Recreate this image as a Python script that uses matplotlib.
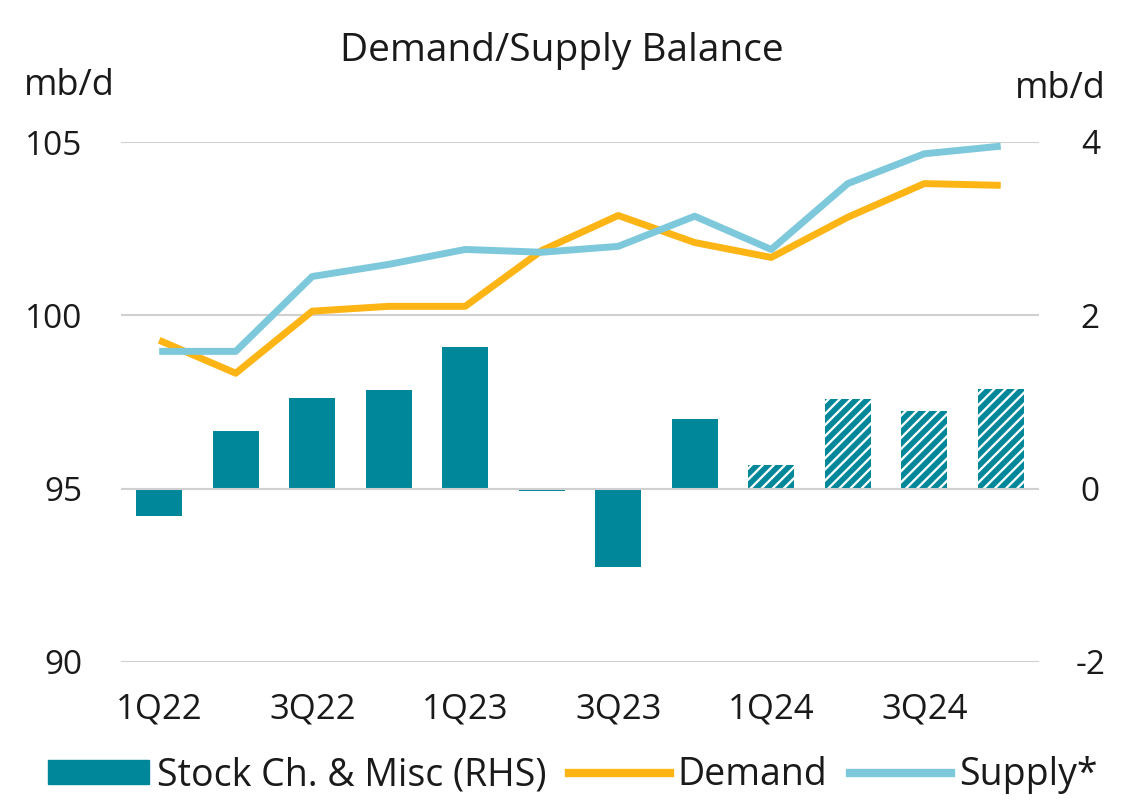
import matplotlib
matplotlib.use("Agg")
import matplotlib.pyplot as plt
from matplotlib.patches import Patch
from matplotlib.lines import Line2D

plt.rcParams['font.family'] = ['Open Sans', 'DejaVu Sans']
plt.rcParams['hatch.linewidth'] = 4.0

quarters = ["1Q22", "2Q22", "3Q22", "4Q22", "1Q23", "2Q23", "3Q23", "4Q23",
            "1Q24", "2Q24", "3Q24", "4Q24"]
demand = [99.28, 98.33, 100.12, 100.26, 100.26, 101.87, 102.88, 102.10,
          101.67, 102.83, 103.80, 103.75]
supply = [98.96, 98.96, 101.12, 101.47, 101.90, 101.82, 101.99, 102.86,
          101.90, 103.80, 104.66, 104.88]
stock = [-0.31, 0.66, 1.05, 1.14, 1.64, -0.03, -0.90, 0.80,
         0.27, 1.03, 0.90, 1.15]
forecast = [False] * 8 + [True] * 4
tick_labels = ["1Q22", "3Q22", "1Q23", "3Q23", "1Q24", "3Q24"]

teal = "#00879A"
orange = "#FDB515"
lightblue = "#7DC9DB"
grid = "#D0D0D0"
txt = "#1a1a1a"

fig = plt.figure(figsize=(11.23, 8.0), dpi=100)
ax = fig.add_axes([0.1077, 0.1725, 0.8175, 0.65])
ax2 = ax.twinx()

x = list(range(len(quarters)))

# bars on right axis
for xi, v, f in zip(x, stock, forecast):
    if f:
        ax2.bar(xi, v, width=0.6, facecolor="white", edgecolor=teal,
                hatch="///", linewidth=0, zorder=2)
    else:
        ax2.bar(xi, v, width=0.6, color=teal, linewidth=0, zorder=2)

ax2.set_ylim(-2, 4)
ax2.set_yticks([-2, 0, 2, 4])
ax2.set_yticklabels(["-2", "0", "2", "4"])

ax.set_ylim(90, 105)
ax.set_yticks([90, 95, 100, 105])
ax.set_xlim(-0.5, 11.5)

for yv in [90, 95, 100, 105]:
    ax.axhline(yv, color=grid, lw=1.5, zorder=0)

# lines on top
ax.set_zorder(ax2.get_zorder() + 1)
ax.patch.set_visible(False)
ax.plot(x, demand, color=orange, lw=5, solid_capstyle="butt", zorder=3)
ax.plot(x, supply, color=lightblue, lw=5, solid_capstyle="butt", zorder=4)

ax.set_xticks([0, 2, 4, 6, 8, 10])
ax.set_xticklabels(tick_labels)

for a in (ax, ax2):
    for s in a.spines.values():
        s.set_visible(False)
    a.tick_params(length=0, labelsize=24, colors=txt)
ax.tick_params(axis="y", pad=28)
ax2.tick_params(axis="y", pad=37)
for lab in ax2.get_yticklabels():
    lab.set_horizontalalignment("center")
ax.tick_params(axis="x", pad=22, labelsize=25)

fig.text(0.5, 0.936, "Demand/Supply Balance", ha="center", va="center",
         fontsize=28, color=txt)
fig.text(0.062, 0.893, "mb/d", ha="center", va="center", fontsize=26, color=txt)
fig.text(0.944, 0.889, "mb/d", ha="center", va="center", fontsize=26, color=txt)

handles = [Patch(facecolor=teal, edgecolor=teal),
           Line2D([0], [0], color=orange, lw=6),
           Line2D([0], [0], color=lightblue, lw=6)]
labels = ["Stock Ch. & Misc (RHS)", "Demand", "Supply*"]
fig.legend(handles, labels, loc="center", bbox_to_anchor=(0.51, 0.031), ncol=3,
           frameon=False, fontsize=27, handlelength=2.7, handleheight=0.6,
           handletextpad=0.2, columnspacing=0.6, labelcolor=txt)

fig.savefig("out.png", dpi=100)
